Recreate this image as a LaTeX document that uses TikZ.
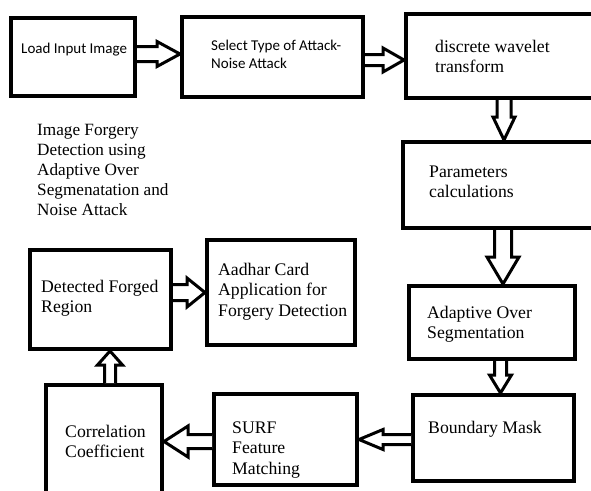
\documentclass[tikz,border=0pt]{standalone}
\usepackage{fontspec}
\setmainfont{Liberation Serif}
\newfontfamily\tnr{Liberation Serif}
\newfontfamily\calib{Carlito}
\usetikzlibrary{calc}
\newcommand\serfont{\tnr\fontsize{17.7}{20.5}\selectfont}
\newcommand\freefont{\tnr\fontsize{17.2}{20}\selectfont}
\newcommand\calfont{\calib\fontsize{15}{18}\selectfont}
\newcommand\lns[1]{\begin{tabular}[t]{@{}l@{}}#1\end{tabular}}
% horizontal block arrow: from, to, centre y (px), shaft half, head half, signed head length
\newcommand\harr[6]{\draw[barrow] let \p1=(#1), \p2=(#2) in
  (\x1,{-#3pt+#4pt}) -- ({\x2-(#6pt)},{-#3pt+#4pt}) -- ({\x2-(#6pt)},{-#3pt+#5pt}) --
  (\x2,{-#3pt}) -- ({\x2-(#6pt)},{-#3pt-#5pt}) -- ({\x2-(#6pt)},{-#3pt-#4pt}) -- (\x1,{-#3pt-#4pt});}
% vertical block arrow: from, to, centre x (px), shaft half, head half, signed head length (positive = downwards)
\newcommand\varr[6]{\draw[barrow] let \p1=(#1), \p2=(#2) in
  ({#3pt+#4pt},\y1) -- ({#3pt+#4pt},{\y2+(#6pt)}) -- ({#3pt+#5pt},{\y2+(#6pt)}) --
  ({#3pt},\y2) -- ({#3pt-#5pt},{\y2+(#6pt)}) -- ({#3pt-#4pt},{\y2+(#6pt)}) -- ({#3pt-#4pt},\y1);}
\begin{document}
\begin{tikzpicture}[x=1pt,y=-1pt,
  box/.style={draw=black, line width=4pt, inner sep=0pt},
  barrow/.style={draw=black, line width=3pt, fill=white, line join=miter},
  txt/.style={anchor=base west, inner sep=0pt, font=\serfont},
  ctxt/.style={anchor=base west, inner sep=0pt, font=\calfont}]
\useasboundingbox (0,0) rectangle (591,490);
\begin{scope}
\clip (0,0) rectangle (591,490);
% boxes
\node[box, minimum width=124pt, minimum height=78.5pt] (b1) at (73,56.75) {};
\node[box, minimum width=181pt, minimum height=80pt] (b2) at (272.5,57) {};
\node[box, minimum width=194pt, minimum height=84pt] (b3) at (503,56) {};
\node[box, minimum width=197pt, minimum height=86pt] (b4) at (501.5,185) {};
\node[box, minimum width=166pt, minimum height=73pt] (b5) at (492,322.5) {};
\node[box, minimum width=161pt, minimum height=86pt] (b6) at (493.5,438) {};
\node[box, minimum width=143pt, minimum height=91pt] (surf) at (285.5,439.5) {};
\node[box, minimum width=116pt, minimum height=115pt] (corr) at (104,442.5) {};
\node[box, minimum width=141pt, minimum height=99pt] (det) at (100.5,299.5) {};
\node[box, minimum width=148pt, minimum height=105pt] (aad) at (281,292.5) {};
% arrows
\harr{b1.east}{b2.west}{54}{7.5}{12.5}{23}
\harr{b2.east}{b3.west}{60}{5.5}{12}{21}
\varr{b3.south}{b4.north}{504}{7}{11}{23}
\varr{b4.south}{b5.north}{503}{8.5}{16}{27}
\varr{b5.south}{b6.north}{500.5}{6}{11}{18}
\harr{b6.west}{surf.east}{439.5}{5}{10}{-24}
\harr{surf.west}{corr.east}{441.5}{7}{15.5}{-24}
\varr{corr.north}{det.south}{110}{5.5}{12.5}{-14}
\harr{det.east}{aad.west}{292.5}{8}{14.5}{18}
% texts
\node[ctxt] (t1) at (21,53) {Load Input Image};
\node[ctxt] (t2) at (211,50) {\lns{Select Type of Attack-\\Noise Attack}};
\node[txt] (t3) at (435,52) {\lns{discrete wavelet\\transform}};
\node[txt] (t4) at (429,177) {\lns{Parameters\\calculations}};
\node[txt, font=\freefont] (tf) at (37,135) {\lns{Image Forgery\\Detection using\\Adaptive Over\\Segmenatation and\\Noise Attack}};
\node[txt] (t5) at (427,318) {\lns{Adaptive Over\\Segmentation}};
\node[txt] (t6) at (428,433) {Boundary Mask};
\node[txt] (t7) at (232,433) {\lns{SURF\\Feature\\Matching}};
\node[txt] (t8) at (65,437) {\lns{Correlation\\Coefficient}};
\node[txt] (t9) at (41,292) {\lns{Detected Forged\\Region}};
\node[txt] (t10) at (218,275) {\lns{Aadhar Card\\Application for\\Forgery Detection}};
\end{scope}
\end{tikzpicture}
\end{document}
